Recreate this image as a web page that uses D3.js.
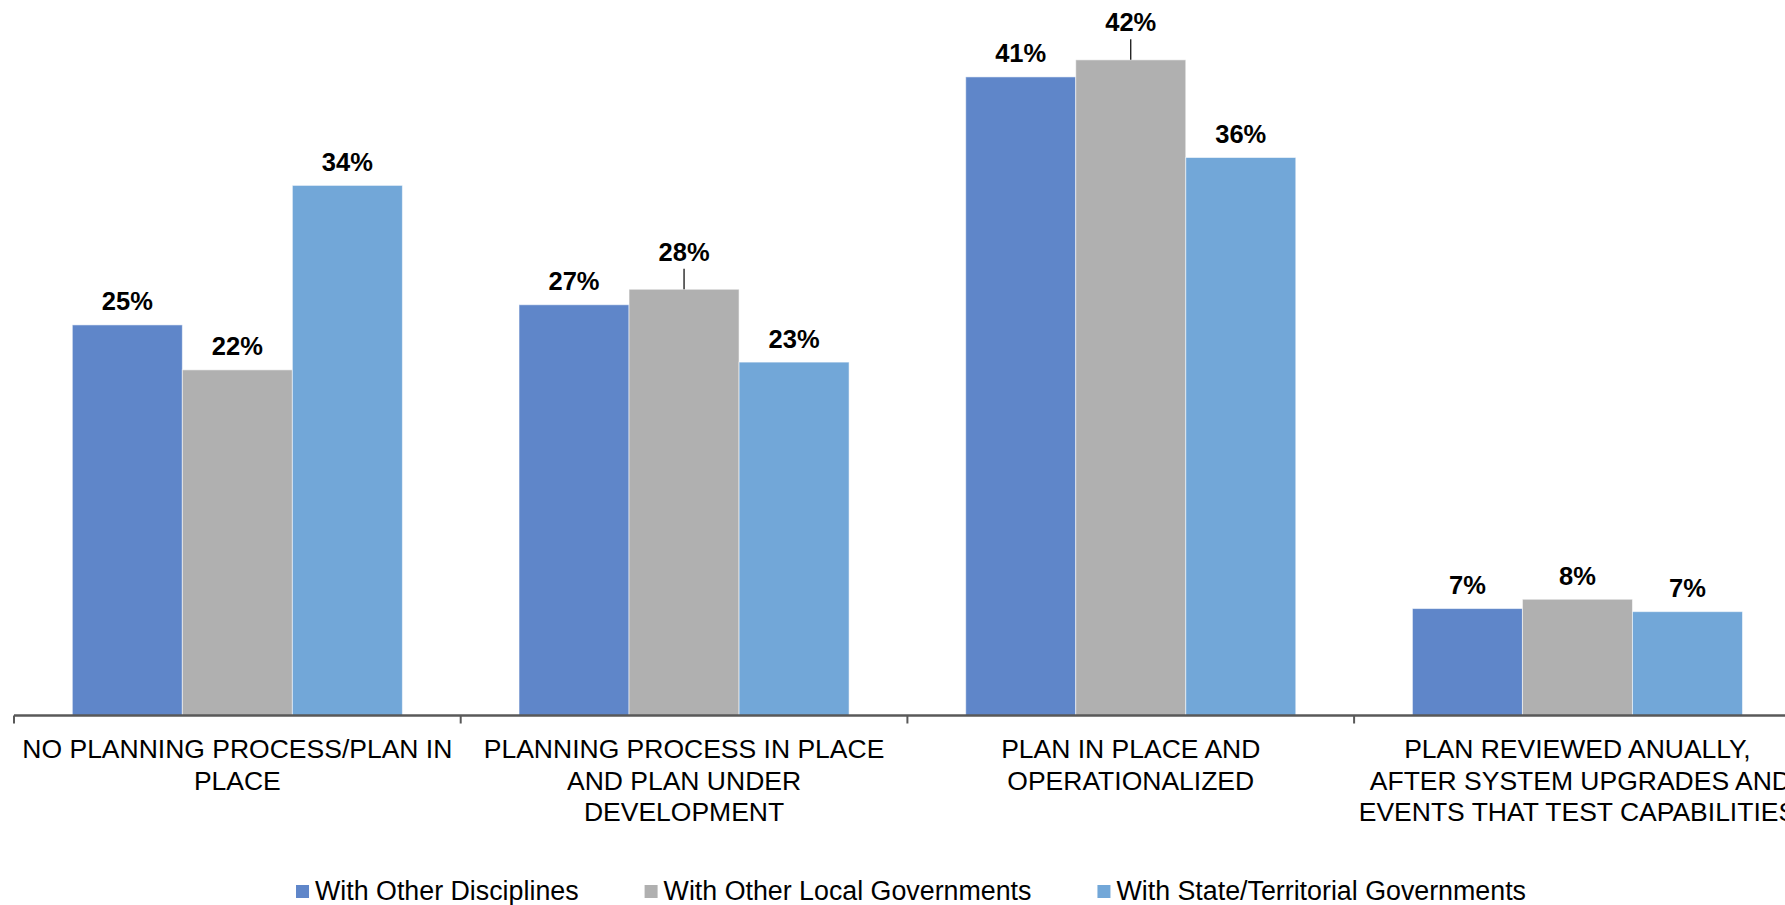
<!DOCTYPE html>
<html>
<head>
<meta charset="utf-8">
<script src="https://cdn.jsdelivr.net/npm/d3@7"></script>
<style>
  html, body { margin: 0; padding: 0; background: #ffffff; }
  svg { display: block; }
  text { font-family: "Liberation Sans", Arial, sans-serif; }
</style>
</head>
<body>
<div id="chart"></div>
<script>
// ---- Data ----
const categories = [
  ["NO PLANNING PROCESS/PLAN IN", "PLACE"],
  ["PLANNING PROCESS IN PLACE", "AND PLAN UNDER", "DEVELOPMENT"],
  ["PLAN IN PLACE AND", "OPERATIONALIZED"],
  ["PLAN REVIEWED ANUALLY,", " AFTER SYSTEM UPGRADES AND", "EVENTS THAT TEST CAPABILITIES"]
];
const seriesNames = ["With Other Disciplines", "With Other Local Governments", "With State/Territorial Governments"];
const otherDisciplines = [25.2, 26.5, 41.2, 6.9];
const otherLocalGovernments = [22.3, 27.5, 42.3, 7.5];
const stateTerritorialGovernments = [34.2, 22.8, 36.0, 6.7];
const seriesValues = [otherDisciplines, otherLocalGovernments, stateTerritorialGovernments];
const colors = ["#5F86C9", "#B0B0B0", "#72A7D8"];
// labels drawn with a leader line: [categoryIndex, seriesIndex]
const leaderLabels = [[1, 1], [2, 1]];

// ---- Layout ----
const W = 1785, H = 905;
const baseY = 715.5;
const plotLeft = 14, catWidth = 446.7;

const svg = d3.select("#chart").append("svg")
  .attr("width", W).attr("height", H);

const catKeys = categories.map(c => c.join(" ").trim());
const x0 = d3.scaleBand().domain(catKeys)
  .range([plotLeft, plotLeft + catWidth * categories.length])
  .paddingInner(0).paddingOuter(0);
const x1 = d3.scaleBand().domain(d3.range(seriesNames.length))
  .range([0, x0.bandwidth()])
  .paddingInner(0).paddingOuter(0.53);
const y = d3.scaleLinear().domain([0, 45]).range([baseY, baseY - 45 * 15.5]);

const data = [];
categories.forEach((c, ci) => {
  seriesNames.forEach((s, si) => {
    data.push({ ci, si, key: catKeys[ci], value: seriesValues[si][ci] });
  });
});
const isLeader = d => leaderLabels.some(([a, b]) => a === d.ci && b === d.si);

// Bars
svg.append("g").selectAll("rect").data(data).join("rect")
  .attr("x", d => x0(d.key) + x1(d.si))
  .attr("y", d => y(d.value))
  .attr("width", x1.bandwidth())
  .attr("height", d => baseY - y(d.value))
  .attr("fill", d => colors[d.si])
  .attr("stroke", "rgba(255,255,255,0.55)")
  .attr("stroke-width", 1);

// Axis line and boundary ticks
const axisG = svg.append("g");
axisG.append("line")
  .attr("x1", x0.range()[0]).attr("x2", x0.range()[1])
  .attr("y1", baseY).attr("y2", baseY)
  .attr("stroke", "#595959").attr("stroke-width", 2.5);
const boundaries = catKeys.map(k => x0(k)).concat([x0.range()[1]]);
axisG.selectAll("line.tick").data(boundaries).join("line")
  .attr("class", "tick")
  .attr("x1", d => d).attr("x2", d => d)
  .attr("y1", baseY).attr("y2", baseY + 8)
  .attr("stroke", "#595959").attr("stroke-width", 2);

// Category labels
const catG = svg.append("g");
categories.forEach((lines, ci) => {
  const cx = x0(catKeys[ci]) + x0.bandwidth() / 2;
  const t = catG.append("text")
    .attr("text-anchor", "middle")
    .attr("font-size", 26.5)
    .attr("fill", "#000")
    .style("white-space", "pre");
  lines.forEach((ln, li) => {
    t.append("tspan").attr("x", cx).attr("y", 758 + li * 31.7).text(ln);
  });
});

// Data labels
const lblG = svg.append("g");
data.forEach(d => {
  const cx = x0(d.key) + x1(d.si) + x1.bandwidth() / 2;
  const top = y(d.value);
  const leader = isLeader(d);
  const base = leader ? top - 28.5 : top - 14.5;
  lblG.append("text")
    .attr("x", cx).attr("y", base)
    .attr("text-anchor", "middle")
    .attr("font-size", 25.5)
    .attr("font-weight", "bold")
    .attr("fill", "#000")
    .text(Math.round(d.value) + "%");
  if (leader) {
    lblG.append("line")
      .attr("x1", cx).attr("x2", cx)
      .attr("y1", base + 8).attr("y2", top)
      .attr("stroke", "#000").attr("stroke-width", 1.2);
  }
});

// Legend
const legG = svg.append("g");
const items = seriesNames.map((name, i) => {
  const g = legG.append("g");
  g.append("rect").attr("x", 0).attr("y", -15).attr("width", 13).attr("height", 13)
    .attr("fill", colors[i]);
  const t = g.append("text").attr("x", 19).attr("y", 0)
    .attr("font-size", 26.8).attr("fill", "#000").text(name);
  return { g, w: 19 + t.node().getComputedTextLength() };
});
const gap = 66;
const total = d3.sum(items, d => d.w) + gap * (items.length - 1);
let lx = 911 - total / 2;
items.forEach(it => {
  it.g.attr("transform", `translate(${lx},900)`);
  lx += it.w + gap;
});
</script>
</body>
</html>
